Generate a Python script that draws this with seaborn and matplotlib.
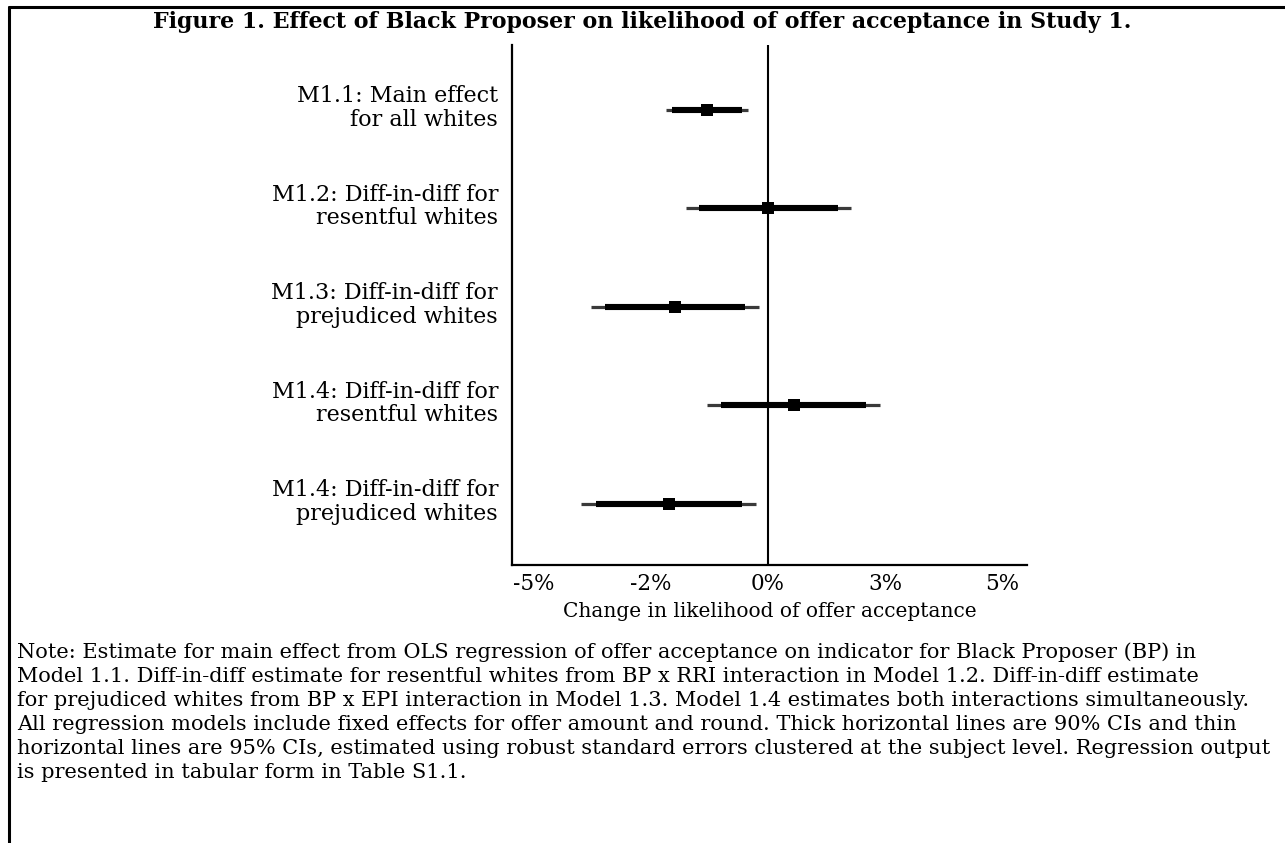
import matplotlib
matplotlib.use("Agg")
import matplotlib.pyplot as plt
from matplotlib.lines import Line2D
import seaborn as sns
import pandas as pd

# Model estimates (percentage points) with 90% and 95% confidence bounds
models = [
    "M1.1: Main effect\nfor all whites",
    "M1.2: Diff-in-diff for\nresentful whites",
    "M1.3: Diff-in-diff for\nprejudiced whites",
    "M1.4: Diff-in-diff for\nresentful whites",
    "M1.4: Diff-in-diff for\nprejudiced whites",
]
estimate = [-1.30, 0.00, -1.98, 0.55, -2.11]
ci90_low = [-2.05, -1.48, -3.48, -1.00, -3.67]
ci90_high = [-0.55, 1.48, -0.49, 2.09, -0.55]
ci95_low = [-2.17, -1.76, -3.77, -1.30, -3.99]
ci95_high = [-0.43, 1.76, -0.19, 2.39, -0.26]

x_ticks = [-5, -2.5, 0, 2.5, 5]
x_tick_labels = ["-5%", "-2%", "0%", "3%", "5%"]

title = "Figure 1. Effect of Black Proposer on likelihood of offer acceptance in Study 1."
x_label = "Change in likelihood of offer acceptance"
note_lines = [
    "Note: Estimate for main effect from OLS regression of offer acceptance on indicator for Black Proposer (BP) in",
    "Model 1.1. Diff-in-diff estimate for resentful whites from BP x RRI interaction in Model 1.2. Diff-in-diff estimate",
    "for prejudiced whites from BP x EPI interaction in Model 1.3. Model 1.4 estimates both interactions simultaneously.",
    "All regression models include fixed effects for offer amount and round. Thick horizontal lines are 90% CIs and thin",
    "horizontal lines are 95% CIs, estimated using robust standard errors clustered at the subject level. Regression output",
    "is presented in tabular form in Table S1.1.",
]

df = pd.DataFrame({
    "model": models,
    "pos": list(range(len(models))),
    "estimate": estimate,
    "lo90": ci90_low, "hi90": ci90_high,
    "lo95": ci95_low, "hi95": ci95_high,
})

sns.set_theme(style="white")
plt.rcParams["font.family"] = ["DejaVu Serif"]
plt.rcParams.update({"text.color": "black", "axes.labelcolor": "black",
                     "xtick.color": "black", "ytick.color": "black"})

W, H = 1285, 843
fig = plt.figure(figsize=(W / 100, H / 100), dpi=100)
ax = fig.add_axes([512 / W, 1 - 565 / H, (1027 - 512) / W, (565 - 45) / H])

# reference line at zero
ax.axvline(0, color="black", lw=1.5, zorder=1)

# thin 95% and thick 90% intervals
ax.hlines(df["pos"], df["lo95"], df["hi95"], color="#3a3a3a", lw=2.3, zorder=2)
ax.hlines(df["pos"], df["lo90"], df["hi90"], color="black", lw=4.4, zorder=3)

sns.scatterplot(data=df, x="estimate", y="pos", marker="s", s=66,
                color="black", edgecolor="black", linewidth=0, ax=ax, zorder=4,
                legend=False)

ax.set_xlim(-5.46, 5.52)
ax.set_ylim(4.62, -0.66)
ax.set_xticks(x_ticks)
ax.set_xticklabels(x_tick_labels, fontsize=15.5)
ax.set_yticks(df["pos"])
ax.set_yticklabels(df["model"], fontsize=16, linespacing=1.1, va="bottom")
ax.tick_params(axis="x", direction="out", length=6, width=1.6, color="black", pad=0)
ax.tick_params(axis="y", length=0, pad=10)
ax.set_xlabel(x_label, fontsize=14.5, labelpad=5)
ax.set_ylabel("")

# shift the two-line row labels so they sit centred on each row
from matplotlib.transforms import ScaledTranslation
for lbl in ax.get_yticklabels():
    lbl.set_verticalalignment("center")
    lbl.set_transform(lbl.get_transform() + ScaledTranslation(0, 2 / 100, fig.dpi_scale_trans))

for side in ("top", "right"):
    ax.spines[side].set_visible(False)
for side in ("left", "bottom"):
    ax.spines[side].set_color("black")
    ax.spines[side].set_linewidth(1.6)

fig.text(0.5, 1 - 22 / H, title, ha="center", va="center",
         fontsize=15.9, fontweight="bold")

for i, line in enumerate(note_lines):
    fig.text(17 / W, 1 - (652 + i * 24.2) / H, line, ha="left", va="center",
             fontsize=15.0)

# frame lines along the left and top edges
fig.add_artist(Line2D([9 / W, 9 / W], [0, 1 - 7 / H], color="black", lw=2.2,
                      transform=fig.transFigure))
fig.add_artist(Line2D([9 / W, 1], [1 - 7 / H, 1 - 7 / H], color="black", lw=2.2,
                      transform=fig.transFigure))

fig.savefig("out.png", dpi=100, facecolor="white")
